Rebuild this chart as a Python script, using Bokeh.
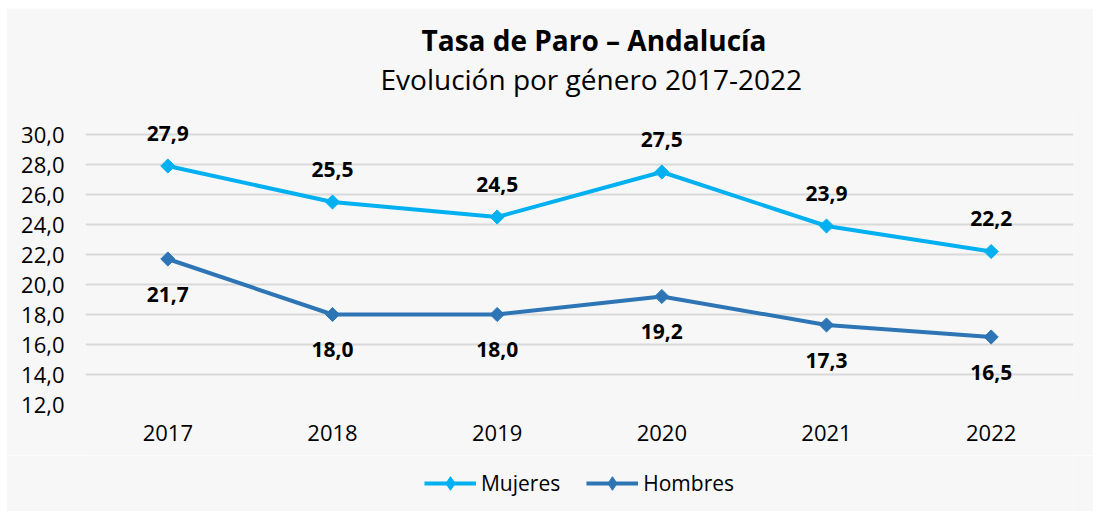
from bokeh.plotting import figure
from bokeh.models import (ColumnDataSource, FactorRange, Range1d, FixedTicker, Title,
                          Legend, LegendItem, Spacer)
from bokeh.layouts import row, column
from bokeh.core.properties import value
from bokeh.embed import file_html
from bokeh.resources import INLINE
import math

years = ["2017", "2018", "2019", "2020", "2021", "2022"]
mujeres = [27.9, 25.5, 24.5, 27.5, 23.9, 22.2]
hombres = [21.7, 18.0, 18.0, 19.2, 17.3, 16.5]
y_ticks = [12, 14, 16, 18, 20, 22, 24, 26, 28, 30]
series_names = ["Mujeres", "Hombres"]

FONT = "Open Sans"
C_MUJ = "#00b0f0"
C_HOM = "#2e75b6"
BG = "#f7f7f7"


def fmt(v):
    return f"{v:.1f}".replace(".", ",")


src_m = ColumnDataSource(dict(x=years, y=mujeres, lab=[fmt(v) for v in mujeres]))
src_h = ColumnDataSource(dict(x=years, y=hombres, lab=[fmt(v) for v in hombres]))

p = figure(width=1087, height=447, x_range=FactorRange(*years), y_range=Range1d(12, 31.6),
           output_backend="svg", toolbar_location=None,
           background_fill_color=BG, border_fill_color=BG,
           min_border_left=79, min_border_right=18, min_border_top=102, min_border_bottom=51)
p.outline_line_color = None

# titles (first added is closest to the plot)
p.add_layout(Title(text="Evolución por género 2017-2022", align="left", text_font=FONT,
                   text_font_size="28px", text_font_style="normal", text_color="#000000",
                   offset=295, standoff=25), "above")
p.add_layout(Title(text="Tasa de Paro – Andalucía", align="left", text_font=FONT,
                   text_font_size="28px", text_font_style="bold", text_color="#000000",
                   offset=336, standoff=-26), "above")

# axes
p.yaxis.ticker = FixedTicker(ticks=y_ticks)
p.yaxis.major_label_overrides = {t: fmt(t) for t in y_ticks}
for ax in (p.xaxis[0], p.yaxis[0]):
    ax.axis_line_color = None
    ax.major_tick_line_color = None
    ax.minor_tick_line_color = None
    ax.major_label_text_font = FONT
    ax.major_label_text_font_size = "22px"
    ax.major_label_text_color = "#000000"
p.yaxis.major_label_standoff = 15
p.xaxis.major_label_standoff = 14
p.xgrid.grid_line_color = None
p.ygrid.ticker = FixedTicker(ticks=y_ticks)
p.ygrid.grid_line_color = "#d9d9d9"
p.ygrid.grid_line_width = 2

# series
p.line("x", "y", source=src_m, line_color=C_MUJ, line_width=4)
p.scatter("x", "y", source=src_m, marker="square", angle=math.pi / 4, size=10,
          fill_color=C_MUJ, line_color=C_MUJ)
p.line("x", "y", source=src_h, line_color=C_HOM, line_width=4)
p.scatter("x", "y", source=src_h, marker="square", angle=math.pi / 4, size=10,
          fill_color=C_HOM, line_color=C_HOM)

p.text("x", "y", text="lab", source=src_m, y_offset=-33, text_align="center",
       text_baseline="middle", text_font=value(FONT), text_font_size="21px",
       text_font_style="bold", text_color="#000000")
p.text("x", "y", text="lab", source=src_h, y_offset=35, text_align="center",
       text_baseline="middle", text_font=value(FONT), text_font_size="21px",
       text_font_style="bold", text_color="#000000")

# legend strip: a separate figure whose y range keeps the series out of view,
# so only the legend entries (built from the same series) are shown
pl = figure(width=1087, height=56, x_range=FactorRange(*years), y_range=Range1d(100, 101),
            x_axis_type=None, y_axis_type=None, output_backend="svg", toolbar_location=None,
            background_fill_color=BG, border_fill_color=BG,
            min_border_left=0, min_border_right=20, min_border_top=0, min_border_bottom=0)
pl.outline_line_color = None
pl.grid.grid_line_color = None
items = []
for name, src, col in zip(series_names, [src_m, src_h], [C_MUJ, C_HOM]):
    r1 = pl.line("x", "y", source=src, line_color=col, line_width=4)
    r2 = pl.scatter("x", "y", source=src, marker="diamond", size=15, fill_color=col, line_color=col)
    items.append(LegendItem(label=name, renderers=[r1, r2]))
legend = Legend(items=items, orientation="horizontal", location="center",
                glyph_width=52, glyph_height=34, label_standoff=5, spacing=26,
                padding=0, margin=0, border_line_color=None, background_fill_alpha=0,
                label_text_font=FONT, label_text_font_size="21px", label_text_color="#000000")
pl.add_layout(legend, "center")

layout = row(Spacer(width=6), column(Spacer(height=8), p, pl))

open("out.html", "w").write(file_html(layout, INLINE))
